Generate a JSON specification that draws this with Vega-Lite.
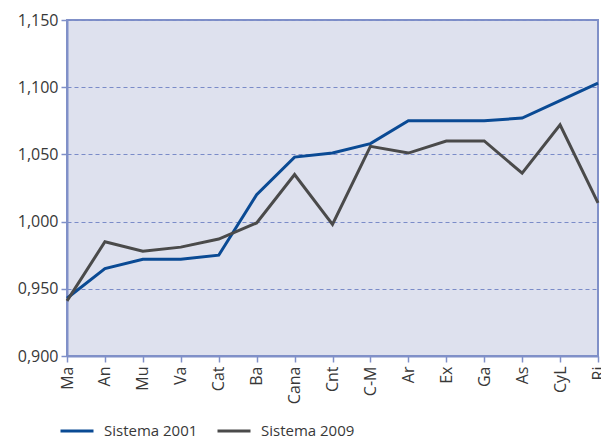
{
  "$schema": "https://vega.github.io/schema/vega-lite/v6.json",
  "autosize": {"type": "none"},
  "width": 531,
  "height": 336,
  "padding": {"left": 67, "top": 20, "right": 3, "bottom": 83},
  "background": "white",
  "config": {
    "font": "Open Sans",
    "view": {"fill": "#dee1ee", "stroke": "#8090c8", "strokeWidth": 2},
    "axis": {"labelFont": "Open Sans", "labelColor": "#383838"}
  },
  "data": {
    "values": [
      {"region": "Ma", "system": "Sistema 2001", "value": 0.943},
      {"region": "An", "system": "Sistema 2001", "value": 0.965},
      {"region": "Mu", "system": "Sistema 2001", "value": 0.972},
      {"region": "Va", "system": "Sistema 2001", "value": 0.972},
      {"region": "Cat", "system": "Sistema 2001", "value": 0.975},
      {"region": "Ba", "system": "Sistema 2001", "value": 1.02},
      {"region": "Cana", "system": "Sistema 2001", "value": 1.048},
      {"region": "Cnt", "system": "Sistema 2001", "value": 1.051},
      {"region": "C-M", "system": "Sistema 2001", "value": 1.058},
      {"region": "Ar", "system": "Sistema 2001", "value": 1.075},
      {"region": "Ex", "system": "Sistema 2001", "value": 1.075},
      {"region": "Ga", "system": "Sistema 2001", "value": 1.075},
      {"region": "As", "system": "Sistema 2001", "value": 1.077},
      {"region": "CyL", "system": "Sistema 2001", "value": 1.09},
      {"region": "Ri", "system": "Sistema 2001", "value": 1.103},
      {"region": "Ma", "system": "Sistema 2009", "value": 0.941},
      {"region": "An", "system": "Sistema 2009", "value": 0.985},
      {"region": "Mu", "system": "Sistema 2009", "value": 0.978},
      {"region": "Va", "system": "Sistema 2009", "value": 0.981},
      {"region": "Cat", "system": "Sistema 2009", "value": 0.987},
      {"region": "Ba", "system": "Sistema 2009", "value": 0.999},
      {"region": "Cana", "system": "Sistema 2009", "value": 1.035},
      {"region": "Cnt", "system": "Sistema 2009", "value": 0.998},
      {"region": "C-M", "system": "Sistema 2009", "value": 1.056},
      {"region": "Ar", "system": "Sistema 2009", "value": 1.051},
      {"region": "Ex", "system": "Sistema 2009", "value": 1.06},
      {"region": "Ga", "system": "Sistema 2009", "value": 1.06},
      {"region": "As", "system": "Sistema 2009", "value": 1.036},
      {"region": "CyL", "system": "Sistema 2009", "value": 1.072},
      {"region": "Ri", "system": "Sistema 2009", "value": 1.014}
    ]
  },
  "mark": {"type": "line", "strokeWidth": 3},
  "encoding": {
    "x": {
      "field": "region",
      "type": "ordinal",
      "sort": null,
      "scale": {"type": "point", "padding": 0},
      "axis": {
        "title": null,
        "labelAngle": -90,
        "labelAlign": "right",
        "labelBaseline": "middle",
        "labelFontSize": 16,
        "labelPadding": 4,
        "domainColor": "#8090c8",
        "domainWidth": 2,
        "tickColor": "#8090c8",
        "tickWidth": 1.5,
        "tickSize": 6,
        "grid": false
      }
    },
    "y": {
      "field": "value",
      "type": "quantitative",
      "scale": {"domain": [0.9, 1.15], "nice": false, "zero": false},
      "axis": {
        "title": null,
        "values": [0.9, 0.95, 1.0, 1.05, 1.1, 1.15],
        "labelExpr": "replace(format(datum.value, '.3f'), '.', ',')",
        "labelFontSize": 16,
        "labelPadding": 3,
        "domainColor": "#8090c8",
        "domainWidth": 2,
        "tickColor": "#8090c8",
        "tickWidth": 1.5,
        "tickSize": 6,
        "grid": true,
        "gridColor": "#7a8bc8",
        "gridDash": [4, 3],
        "gridWidth": 1.2
      }
    },
    "color": {
      "field": "system",
      "type": "nominal",
      "scale": {"domain": ["Sistema 2001", "Sistema 2009"], "range": ["#0a4a94", "#4a4a4a"]},
      "legend": {
        "title": null,
        "orient": "none",
        "direction": "horizontal",
        "legendX": -8,
        "legendY": 393,
        "symbolType": "stroke",
        "symbolSize": 1089,
        "symbolStrokeWidth": 3,
        "labelFontSize": 15,
        "labelFont": "Open Sans",
        "labelColor": "#383838",
        "labelOffset": 9,
        "columnPadding": 13
      }
    }
  }
}
